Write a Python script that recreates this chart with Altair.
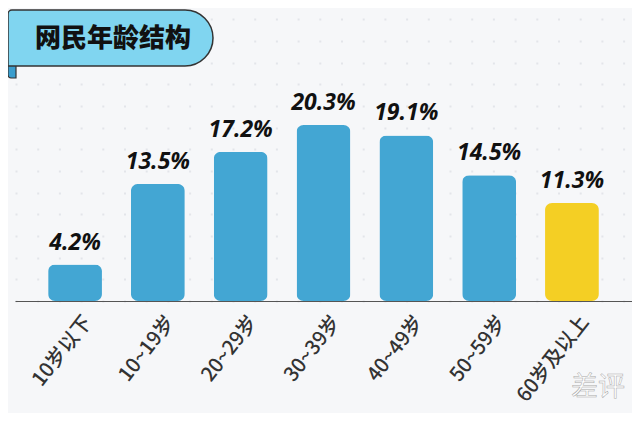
import altair as alt
import pandas as pd

# ---- data ----
title_text = "网民年龄结构"
categories = ["10岁以下", "10~19岁", "20~29岁", "30~39岁", "40~49岁", "50~59岁", "60岁及以上"]
shares = [4.2, 13.5, 17.2, 20.3, 19.1, 14.5, 11.3]
groups = ["normal", "normal", "normal", "normal", "normal", "normal", "highlight"]
watermark = "差评"

df = pd.DataFrame({
    "cat": categories,
    "share": shares,
    "label": [f"{v}%" for v in shares],
    "grp": groups,
})

BLUE = "#43a6d3"
YELLOW = "#f4cf24"
BG = "#f6f7f9"

W, H = 617, 293

x = alt.X(
    "cat:N",
    sort=categories,
    scale=alt.Scale(paddingInner=0.35, paddingOuter=0.40),
    axis=alt.Axis(
        title=None,
        labelAngle=-52,
        labelAlign="right",
        labelBaseline="middle",
        labelFont="Noto Sans CJK SC",
        labelFontSize=20,
        labelFontWeight=500,
        labelColor="#333333",
        labelPadding=17,
        labelOffset=13,
        ticks=False,
        domainColor="#555555",
        domainWidth=1.2,
        grid=False,
    ),
)
y = alt.Y(
    "share:Q",
    scale=alt.Scale(domain=[0, 33.8], nice=False),
    axis=alt.Axis(
        title=None,
        labels=False,
        ticks=False,
        domain=False,
        values=[i * 2.5 for i in range(14)],
        grid=True,
        gridColor="#e3e5ea",
        gridWidth=2,
        gridDash=[2, 19.7],
    ),
)

base = alt.Chart(df)

bars = base.mark_bar(cornerRadius=7).encode(
    x=x,
    y=y,
    color=alt.Color("grp:N", scale=alt.Scale(domain=["normal", "highlight"], range=[BLUE, YELLOW]), legend=None),
)

values_text = base.mark_text(
    dy=-15,
    baseline="alphabetic",
    font="Open Sans",
    fontStyle="italic",
    fontWeight="bold",
    fontSize=23,
    color="#111111",
).encode(x=x, y=y, text="label:N")

tdf = pd.DataFrame({"t": [title_text]})
tab = alt.Chart(tdf).mark_rect(
    fill="#3a9dcd", stroke="#333333", strokeWidth=1.2, cornerRadiusBottomLeft=3
).encode(x=alt.value(-7), x2=alt.value(1), y=alt.value(48), y2=alt.value(70))
banner = alt.Chart(tdf).mark_rect(
    fill="#80d5f0", stroke="#333333", strokeWidth=1.5,
    cornerRadiusTopRight=28, cornerRadiusBottomRight=28, cornerRadiusTopLeft=4,
).encode(x=alt.value(-7), x2=alt.value(198), y=alt.value(2), y2=alt.value(58))
title = alt.Chart(tdf).mark_text(
    font="Noto Sans CJK SC", fontWeight=900, fontSize=26, color="#111111",
    align="center", baseline="middle",
).encode(x=alt.value(98), y=alt.value(31), text="t:N")

wdf = pd.DataFrame({"w": [watermark]})
wm = alt.Chart(wdf).mark_text(
    font="Noto Sans CJK SC", fontSize=27, fill="#ffffff", stroke="#a8a8a8", strokeWidth=0.5,
    align="center", baseline="middle",
).encode(x=alt.value(583), y=alt.value(380), text="w:N")

chart = alt.layer(bars, values_text, tab, banner, title, wm).properties(
    width=W,
    height=H,
    autosize=alt.AutoSizeParams(type="none"),
    padding={"left": 7, "top": 0, "right": 0, "bottom": 112},
    background=BG,
).configure_view(stroke=None)

chart.save("out.html", embed_options={"renderer": "svg", "actions": False})
